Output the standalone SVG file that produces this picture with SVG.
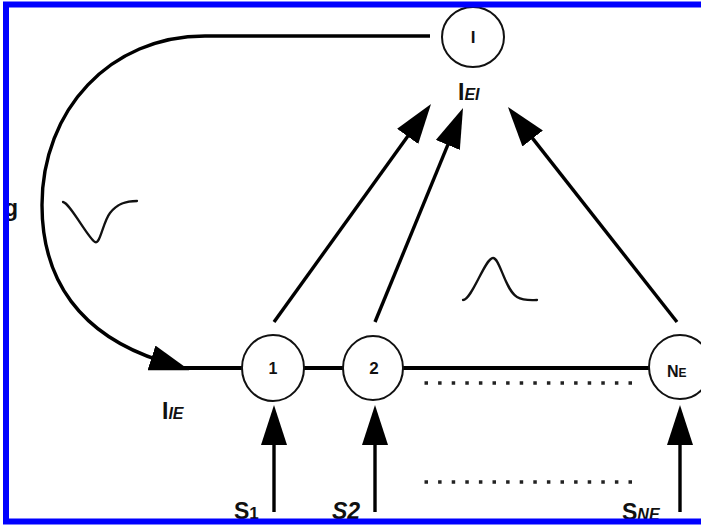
<svg xmlns="http://www.w3.org/2000/svg" width="701" height="525" viewBox="0 0 701 525">
<style>
.node{fill:#fff;stroke:#111;stroke-width:2}
.ln{fill:none;stroke:#000;stroke-width:3.4}
.thick{fill:none;stroke:#000;stroke-width:4}
.wave{fill:none;stroke:#111;stroke-width:2.3;stroke-linecap:round;stroke-linejoin:round}
.lbl{font-family:"Liberation Sans",Arial,sans-serif;font-weight:bold;fill:#111}
.dot{fill:none;stroke:#222;stroke-width:3.5;stroke-dasharray:3.5 10.1}
</style>
<defs>
<marker id="ah" markerUnits="userSpaceOnUse" markerWidth="40" markerHeight="26" refX="10" refY="13" orient="auto">
<path d="M0,0 L40,13 L0,26 z" fill="#000"/>
</marker>
</defs>
<rect width="701" height="525" fill="#fff"/>
<g id="connectors">
<path class="ln" d="M 430 36 L 205 36 C 110 36 42 110 42 205 C 42 280 80 335 161 361" marker-end="url(#ah)"/>
<line class="thick" x1="175" y1="368" x2="242" y2="368"/>
<line class="thick" x1="304" y1="368" x2="344" y2="368"/>
<line class="thick" x1="402" y1="368" x2="649" y2="368"/>
<line class="ln" x1="274" y1="322" x2="413.5" y2="128.3" marker-end="url(#ah)"/>
<line class="ln" x1="375" y1="322" x2="451.6" y2="135.7" marker-end="url(#ah)"/>
<line class="ln" x1="677" y1="322" x2="526.5" y2="130.6" marker-end="url(#ah)"/>
<line class="ln" x1="274" y1="512" x2="274" y2="435" marker-end="url(#ah)"/>
<line class="ln" x1="375" y1="512" x2="375" y2="435" marker-end="url(#ah)"/>
<line class="ln" x1="680" y1="512" x2="680" y2="435" marker-end="url(#ah)"/>
<line class="dot" x1="424.5" y1="383" x2="640" y2="383"/>
<line class="dot" x1="424.5" y1="482" x2="640" y2="482"/>
</g>
<g id="node-I">
<ellipse class="node" cx="473" cy="37" rx="31" ry="30"/>
<text class="lbl" x="473" y="43" font-size="17" text-anchor="middle">I</text>
</g>
<g id="node-1">
<ellipse class="node" cx="273" cy="368" rx="31" ry="33"/>
<text class="lbl" x="273" y="374" font-size="16" text-anchor="middle">1</text>
</g>
<g id="node-2">
<ellipse class="node" cx="373" cy="368" rx="30" ry="32"/>
<text class="lbl" x="374" y="374" font-size="17" text-anchor="middle">2</text>
</g>
<g id="node-NE">
<ellipse class="node" cx="680" cy="367" rx="31" ry="32"/>
<text class="lbl" x="667" y="377" font-size="16">N<tspan font-size="12">E</tspan></text>
</g>
<g id="labels">
<text class="lbl" x="458" y="100" font-size="23">I<tspan font-size="16" font-style="italic">EI</tspan></text>
<text class="lbl" x="162" y="419" font-size="23">I<tspan font-size="16" font-style="italic">IE</tspan></text>
<text class="lbl" x="234" y="519" font-size="23">S<tspan font-size="17">1</tspan></text>
<text class="lbl" x="332" y="519" font-size="23" font-style="italic">S2</text>
<text class="lbl" x="622" y="520" font-size="23">S<tspan font-size="16" font-style="italic">NE</tspan></text>
<text class="lbl" x="4" y="216" font-size="23">g</text>
</g>
<g id="waves">
<path class="wave" d="M 63 202 C 70 203 88 238 95 242 C 100 245 103 222 110 213 C 118 203 127 201 137 201"/>
<path class="wave" d="M 463 300 C 472 300 485 258 493 258 C 500 258 505 290 517 297 C 524 301 531 300 537 300"/>
</g>
<path d="M 900 4.5 H 6 V 521.5 H 900" fill="none" stroke="#0000ff" stroke-width="6"/>
</svg>
